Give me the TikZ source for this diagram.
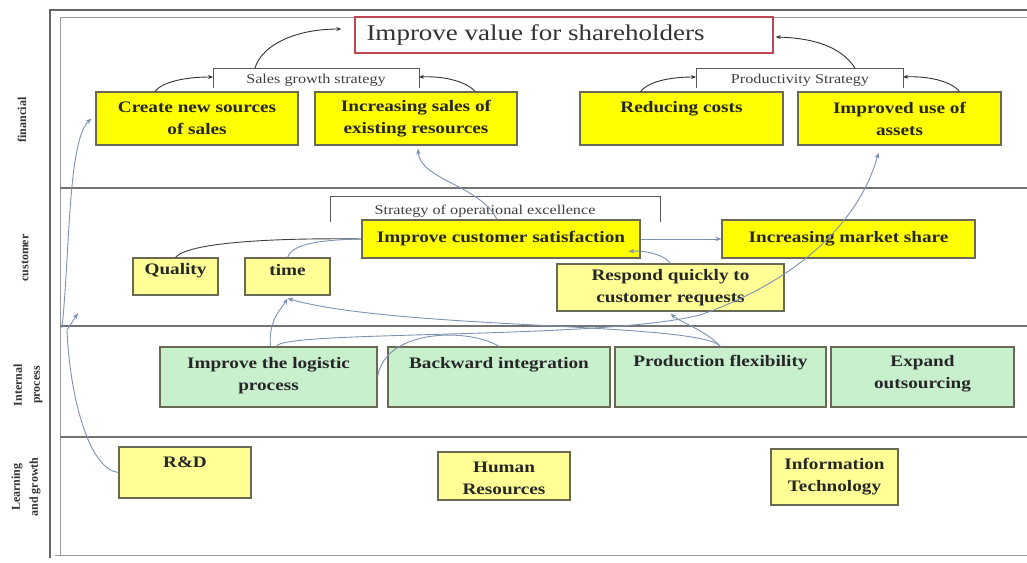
\documentclass[tikz,border=0pt]{standalone}
\usepackage{fontspec}
\setmainfont{Liberation Serif}
\newfontfamily\bxf{Liberation Serif}[FakeStretch=1.2]
\usetikzlibrary{fit,arrows.meta}
\definecolor{bdr}{RGB}{105,105,85}
\definecolor{ylw}{RGB}{255,255,0}
\definecolor{lylw}{RGB}{255,255,150}
\definecolor{grn}{RGB}{200,240,205}
\definecolor{conn}{RGB}{125,145,178}
\definecolor{redb}{RGB}{190,70,85}
\tikzset{
 base/.style={draw=bdr, line width=1.1pt, inner sep=0pt},
 ybox/.style={base, fill=ylw},
 lybox/.style={base, fill=lylw},
 gbox/.style={base, fill=grn},
 tbox/.style={draw=redb, line width=1.4pt, fill=white, inner sep=0pt},
 txt/.style={inner sep=0pt, align=center, font=\bxf\bfseries\fontsize{16}{22}\selectfont, text=black!85},
 ttl/.style={inner sep=0pt, font=\bxf\fontsize{22.5}{27}\selectfont, text=black!80},
 brk/.style={draw=black!65, line width=1pt},
 brklbl/.style={inner sep=0pt, font=\bxf\fontsize{13.5}{16}\selectfont, text=black!75},
 lanelbl/.style={inner sep=0pt, align=center, rotate=90, font=\bfseries\fontsize{12}{18}\selectfont, text=black!80},
 blk/.style={draw=black!80, line width=0.9pt, -{Stealth[length=5pt,width=4pt]}},
 cn/.style={draw=conn, line width=0.9pt, -{Stealth[length=6pt,width=4.5pt]}},
 cnn/.style={draw=conn, line width=0.9pt},
 frameo/.style={draw=black!60, line width=1.2pt},
 framei/.style={draw=black!40, line width=0.9pt},
 sep/.style={draw=black!55, line width=1.1pt},
}
\newcommand\bxc[7]{\node[#6, fit={(#2,#3) (#4,#5)}] (#1) {};
 \node[txt] (#1t) at (#1.center) {#7};}
\newcommand\bxt[8]{\node[#6, fit={(#2,#3) (#4,#5)}] (#1) {};
 \node[txt, anchor=north] (#1t) at ([yshift=-#7pt]#1.north) {#8};}
\begin{document}
\begin{tikzpicture}[x=1pt,y=-1pt]
\useasboundingbox[fill=white] (0,0) rectangle (1027,562);
% frame and lanes
\draw[frameo] (50,558) -- (50,10) -- (1027,10);
\draw[framei] (60,555) -- (60,17) -- (1027,17);
\draw[framei] (55,555) -- (1027,555);
\draw[sep] (60,188) -- (1027,188);
\draw[sep] (60,326) -- (1027,326);
\draw[sep] (60,437) -- (1027,437);
% lane labels
\node[lanelbl] (lf) at (22,120) {financial};
\node[lanelbl] (lc) at (25,258) {customer};
\node[lanelbl] (li) at (28,385) {Internal\\process};
\node[lanelbl] (ll) at (26,487) {Learning\\and growth};
% brackets
\draw[brk] (213,88) -- (213,68) -- (419,68) -- (419,88);
\draw[brk] (696,88) -- (696,68) -- (903,68) -- (903,88);
\draw[brk] (330,222) -- (330,196) -- (660,196) -- (660,222);
\node[brklbl] (sgl) at (316,80) {Sales growth strategy};
\node[brklbl] (psl) at (800,80) {Productivity Strategy};
\node[brklbl] (oel) at (485,211) {Strategy of operational excellence};
\coordinate (sgL) at (213,77);
\coordinate (sgR) at (419,77);
\coordinate (sgT) at (255,68);
\coordinate (psL) at (696,77);
\coordinate (psR) at (903,77);
\coordinate (psT) at (855,68);
% title
\node[tbox, fit={(355,17) (773,53)}] (vs) {};
\node[ttl, anchor=west] (vst) at ([xshift=12pt]vs.west) {Improve value for shareholders};
% financial
\bxc{cns}{96}{92}{298}{145}{ybox}{Create new sources\\of sales}
\bxc{isr}{315}{92}{517}{145}{ybox}{Increasing sales of\\existing resources}
\bxt{rc}{580}{92}{783}{145}{ybox}{10}{Reducing costs}
\bxc{iua}{798}{92}{1001}{145}{ybox}{Improved use of\\assets}
% customer
\bxc{ics}{362}{220}{640}{258}{ybox}{Improve customer satisfaction}
\bxc{ims}{722}{220}{975}{258}{ybox}{Increasing market share}
\bxt{qual}{133}{258}{218}{295}{lybox}{6}{Quality}
\bxt{time}{245}{258}{330}{295}{lybox}{7}{time}
\bxc{rq}{557}{264}{784}{311}{lybox}{Respond quickly to\\customer requests}
% internal
\bxt{lg}{160}{347}{377}{407}{gbox}{11}{Improve the logistic\\process}
\bxt{bw}{388}{347}{610}{407}{gbox}{11}{Backward integration}
\bxt{pf}{615}{347}{826}{407}{gbox}{9}{Production flexibility}
\bxt{eo}{831}{347}{1014}{407}{gbox}{9}{Expand\\outsourcing}
% learning
\bxt{rd}{119}{447}{251}{498}{lybox}{10}{R\&D}
\bxt{hr}{438}{452}{570}{500}{lybox}{10}{Human\\Resources}
\bxt{it}{771}{449}{898}{505}{lybox}{10}{Information\\Technology}
% financial arrows
\draw[blk] ([xshift=-42pt]cns.north) .. controls (162,82) and (185,77) .. (sgL);
\draw[blk] (sgT) .. controls (262,45) and (295,29) .. ([xshift=-13pt,yshift=6pt]vs.west);
\draw[blk] ([xshift=59pt]isr.north) .. controls (465,80) and (440,76) .. (sgR);
\draw[blk] ([xshift=-41pt]rc.north) .. controls (650,80) and (675,77) .. (psL);
\draw[blk] ([xshift=60pt]iua.north) .. controls (950,80) and (925,76) .. (psR);
\draw[blk] (psT) .. controls (840,45) and (810,38) .. ([xshift=2pt,yshift=-2pt]vs.east);
% customer connectors
\draw[draw=black!75, line width=0.9pt] (qual.north) .. controls (190,240) and (300,238) .. (ics.west);
\draw[cnn] (time.north) .. controls (292,246) and (310,240) .. (ics.west);
\draw[cn] (ics.east) -- (ims.west);
\draw[cn] (rq.north) .. controls (665,255) and (645,250) .. ([xshift=-12pt,yshift=7pt]ics.south east);
\draw[cn] ([xshift=-4pt]ics.north) .. controls (480,185) and (420,180) .. ([xshift=2pt,yshift=-3pt]isr.south);
% internal connectors
\draw[cn] ([xshift=2pt]lg.north) .. controls (268,320) and (282,308) .. ([yshift=-3pt]time.south);
\draw[cn] (pf.north) .. controls (700,322) and (400,330) .. ([yshift=-3pt]time.south);
\draw[cn] (pf.north) .. controls (705,330) and (680,322) .. ([yshift=-2pt]rq.south);
\draw[cnn] (bw.north) .. controls (470,328) and (385,328) .. (lg.east);
\draw[cn] ([xshift=8pt]lg.north) .. controls (280,330) and (600,340) .. (700,315) .. controls (800,280) and (860,220) .. ([xshift=-21pt,yshift=-7pt]iua.south);
% left arrows
\coordinate (lj) at (78,313);
\coordinate (lj2) at (62,328);
\draw[cn] (rd.west) .. controls (90,470) and (70,400) .. (67,330) -- (lj);
\draw[cn] (lj2) .. controls (70,250) and (68,140) .. ([xshift=-4pt]cns.west);
\end{tikzpicture}
\end{document}
